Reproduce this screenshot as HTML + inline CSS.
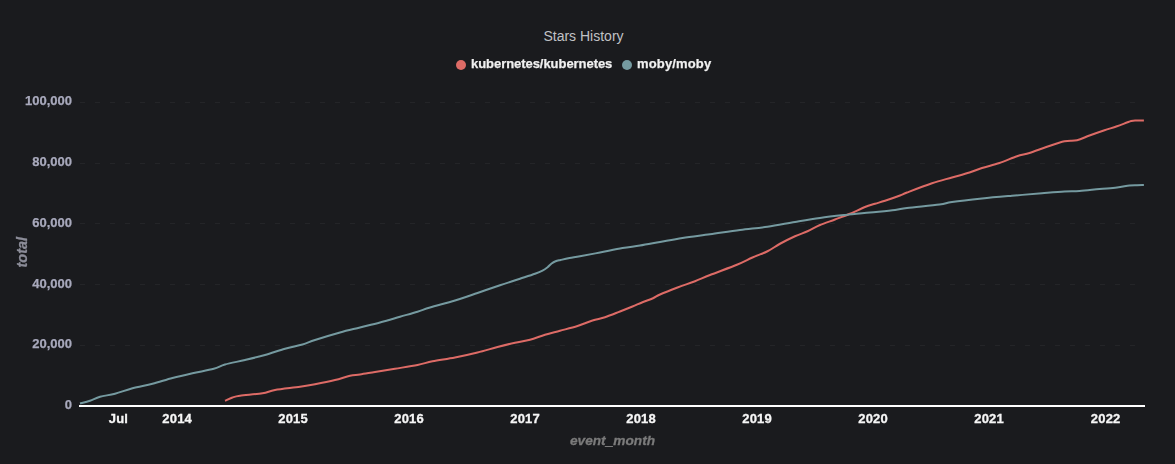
<!DOCTYPE html>
<html><head><meta charset="utf-8"><title>Stars History</title>
<style>
html,body{margin:0;padding:0;background:#1a1b1e;}
body{width:1175px;height:464px;overflow:hidden;font-family:"Liberation Sans",sans-serif;}
svg{display:block;}
body{position:relative;}
.title{position:absolute;left:0;top:28px;width:1167px;text-align:center;font-size:14px;line-height:16px;color:#c1c2c5;white-space:nowrap;}
.layer{position:absolute;left:0;top:0;width:1175px;height:464px;will-change:transform;}
text{font-family:"Liberation Sans",sans-serif;}
.yl{font-size:13px;font-weight:700;fill:#a8a9bc;stroke:#a8a9bc;stroke-width:.25px;text-anchor:end;}
.xl{font-size:13px;font-weight:700;fill:#f6f6f6;stroke:#f6f6f6;stroke-width:.3px;letter-spacing:.2px;text-anchor:middle;}
.lg{font-size:13px;font-weight:700;fill:#f0f0f0;stroke:#f0f0f0;stroke-width:.25px;}
.nm{font-size:13.7px;font-weight:700;font-style:italic;text-anchor:middle;stroke-width:.3px;}
</style></head><body>
<div class="title">Stars History</div>
<div class="layer">
<svg width="1175" height="464" viewBox="0 0 1175 464">
<circle cx="461" cy="65" r="5" fill="#dd6b66"/>
<text class="lg" x="471" y="68" letter-spacing="-.05">kubernetes/kubernetes</text>
<circle cx="627" cy="65" r="5" fill="#759aa0"/>
<text class="lg" x="637" y="68" letter-spacing=".15">moby/moby</text>

<line x1="80" x2="1145" y1="102.5" y2="102.5" stroke="#242528" stroke-width="1" stroke-dasharray="5 10"/>
<line x1="80" x2="1145" y1="163.5" y2="163.5" stroke="#242528" stroke-width="1" stroke-dasharray="5 10"/>
<line x1="80" x2="1145" y1="223.5" y2="223.5" stroke="#242528" stroke-width="1" stroke-dasharray="5 10"/>
<line x1="80" x2="1145" y1="284.5" y2="284.5" stroke="#242528" stroke-width="1" stroke-dasharray="5 10"/>
<line x1="80" x2="1145" y1="345.5" y2="345.5" stroke="#242528" stroke-width="1" stroke-dasharray="5 10"/>
<text class="yl" x="72" y="105.2">100,000</text>
<text class="yl" x="72" y="166">80,000</text>
<text class="yl" x="72" y="226.8">60,000</text>
<text class="yl" x="72" y="287.6">40,000</text>
<text class="yl" x="72" y="348.4">20,000</text>
<text class="yl" x="72" y="409.2">0</text>
<rect x="79" y="405" width="1066" height="2" fill="#ffffff"/>
<text class="xl" x="118.4" y="423">Jul</text>
<text class="xl" x="177.2" y="423">2014</text>
<text class="xl" x="293.1" y="423">2015</text>
<text class="xl" x="409.1" y="423">2016</text>
<text class="xl" x="525.1" y="423">2017</text>
<text class="xl" x="641.1" y="423">2018</text>
<text class="xl" x="757.1" y="423">2019</text>
<text class="xl" x="873.1" y="423">2020</text>
<text class="xl" x="989.1" y="423">2021</text>
<text class="xl" x="1105.7" y="423">2022</text>
<text class="nm" x="612.5" y="445.2" fill="#7b7b7b" stroke="#7b7b7b">event_month</text>
<text class="nm" style="font-size:14.5px" transform="translate(27.2 252.2) rotate(-90)" fill="#8c8d99" stroke="#8c8d99">total</text>
<path d="M225 400.75C226.25 400.21 230.00 398.33 232.5 397.5C235.00 396.67 235.00 396.46 240 395.75C245.00 395.04 256.67 394.21 262.5 393.25C268.33 392.29 268.75 391.08 275 390C281.25 388.92 293.33 387.71 300 386.75C306.67 385.79 309.17 385.38 315 384.25C320.83 383.12 329.17 381.42 335 380C340.83 378.58 345.83 376.67 350 375.75C354.17 374.83 355.83 375.12 360 374.5C364.17 373.88 369.17 372.96 375 372C380.83 371.04 387.92 369.92 395 368.75C402.08 367.58 411.25 366.25 417.5 365C423.75 363.75 426.25 362.50 432.5 361.25C438.75 360.00 447.50 358.96 455 357.5C462.50 356.04 470.42 354.25 477.5 352.5C484.58 350.75 491.25 348.62 497.5 347C503.75 345.38 509.58 343.96 515 342.75C520.42 341.54 525.00 341.08 530 339.75C535.00 338.42 540.00 336.25 545 334.75C550.00 333.25 554.58 332.21 560 330.75C565.42 329.29 572.08 327.71 577.5 326C582.92 324.29 587.92 321.96 592.5 320.5C597.08 319.04 600.42 318.75 605 317.25C609.58 315.75 615.42 313.29 620 311.5C624.58 309.71 628.75 308.04 632.5 306.5C636.25 304.96 639.08 303.62 642.5 302.25C645.92 300.88 650.08 299.54 653 298.25C655.92 296.96 655.92 296.29 660 294.5C664.08 292.71 671.67 289.71 677.5 287.5C683.33 285.29 689.58 283.33 695 281.25C700.42 279.17 702.92 277.79 710 275C717.08 272.21 730.42 267.42 737.5 264.5C744.58 261.58 747.50 259.71 752.5 257.5C757.50 255.29 762.92 253.54 767.5 251.25C772.08 248.96 775.42 246.25 780 243.75C784.58 241.25 790.42 238.33 795 236.25C799.58 234.17 803.33 233.12 807.5 231.25C811.67 229.38 815.42 226.96 820 225C824.58 223.04 830.00 221.38 835 219.5C840.00 217.62 845.00 215.83 850 213.75C855.00 211.67 860.83 208.67 865 207C869.17 205.33 871.67 204.79 875 203.75C878.33 202.71 880.83 202.12 885 200.75C889.17 199.38 896.33 196.88 900 195.5C903.67 194.12 901.67 194.54 907 192.5C912.33 190.46 924.50 185.75 932 183.25C939.50 180.75 945.75 179.29 952 177.5C958.25 175.71 964.50 174.08 969.5 172.5C974.50 170.92 977.00 169.58 982 168C987.00 166.42 993.67 164.96 999.5 163C1005.33 161.04 1012.00 157.92 1017 156.25C1022.00 154.58 1024.50 154.58 1029.5 153C1034.50 151.42 1041.17 148.71 1047 146.75C1052.83 144.79 1059.50 142.32 1064.5 141.25C1069.50 140.18 1072.83 141.26 1077 140.3C1081.17 139.34 1084.92 137.18 1089.5 135.5C1094.08 133.82 1099.92 131.73 1104.5 130.2C1109.08 128.67 1112.55 127.83 1117 126.3C1121.45 124.77 1127.78 121.97 1131.2 121C1134.62 120.03 1135.38 120.58 1137.5 120.5C1139.62 120.42 1142.83 120.50 1143.9 120.5" fill="none" stroke="#dd6b66" stroke-width="2" stroke-linejoin="round" stroke-linecap="butt"/>
<path d="M80 403.5C81.67 403.04 86.67 401.88 90 400.75C93.33 399.62 95.83 397.92 100 396.75C104.17 395.58 109.58 395.17 115 393.75C120.42 392.33 126.25 389.92 132.5 388.25C138.75 386.58 145.83 385.46 152.5 383.75C159.17 382.04 165.83 379.75 172.5 378C179.17 376.25 185.62 374.79 192.5 373.25C199.38 371.71 208.33 370.21 213.75 368.75C219.17 367.29 219.79 365.96 225 364.5C230.21 363.04 238.33 361.58 245 360C251.67 358.42 258.33 356.88 265 355C271.67 353.12 278.75 350.50 285 348.75C291.25 347.00 297.50 345.96 302.5 344.5C307.50 343.04 308.75 342.00 315 340C321.25 338.00 332.50 334.58 340 332.5C347.50 330.42 353.33 329.17 360 327.5C366.67 325.83 373.33 324.29 380 322.5C386.67 320.71 393.75 318.54 400 316.75C406.25 314.96 412.50 313.29 417.5 311.75C422.50 310.21 423.75 309.38 430 307.5C436.25 305.62 447.08 302.92 455 300.5C462.92 298.08 470.00 295.54 477.5 293C485.00 290.46 492.92 287.62 500 285.25C507.08 282.88 514.17 280.67 520 278.75C525.83 276.83 531.25 275.11 535 273.75C538.75 272.39 540.40 271.69 542.5 270.6C544.60 269.51 546.08 268.38 547.6 267.2C549.12 266.02 550.27 264.48 551.6 263.5C552.93 262.52 554.12 261.88 555.6 261.3C557.08 260.72 558.18 260.55 560.5 260C562.82 259.45 566.25 258.62 569.5 258C572.75 257.38 574.92 257.17 580 256.25C585.08 255.33 592.92 253.88 600 252.5C607.08 251.12 615.83 249.15 622.5 248C629.17 246.85 633.75 246.60 640 245.6C646.25 244.60 652.92 243.27 660 242C667.08 240.73 674.17 239.29 682.5 238C690.83 236.71 700.42 235.58 710 234.25C719.58 232.92 730.42 231.25 740 230C749.58 228.75 758.33 228.08 767.5 226.75C776.67 225.42 786.25 223.46 795 222C803.75 220.54 811.67 219.17 820 218C828.33 216.83 836.67 215.92 845 215C853.33 214.08 861.67 213.33 870 212.5C878.33 211.67 888.83 210.75 895 210C901.17 209.25 899.58 208.92 907 208C914.42 207.08 932.00 205.50 939.5 204.5C947.00 203.50 944.92 203.00 952 202C959.08 201.00 972.00 199.54 982 198.5C992.00 197.46 1002.00 196.62 1012 195.75C1022.00 194.88 1033.25 193.96 1042 193.25C1050.75 192.54 1058.25 191.89 1064.5 191.5C1070.75 191.11 1073.67 191.32 1079.5 190.9C1085.33 190.48 1093.25 189.57 1099.5 189C1105.75 188.43 1112.00 188.08 1117 187.5C1122.00 186.92 1126.17 185.88 1129.5 185.5C1132.83 185.12 1134.60 185.27 1137 185.2C1139.40 185.13 1142.75 185.12 1143.9 185.1" fill="none" stroke="#759aa0" stroke-width="2" stroke-linejoin="round" stroke-linecap="butt"/>
</svg>
</div>
</body></html>
